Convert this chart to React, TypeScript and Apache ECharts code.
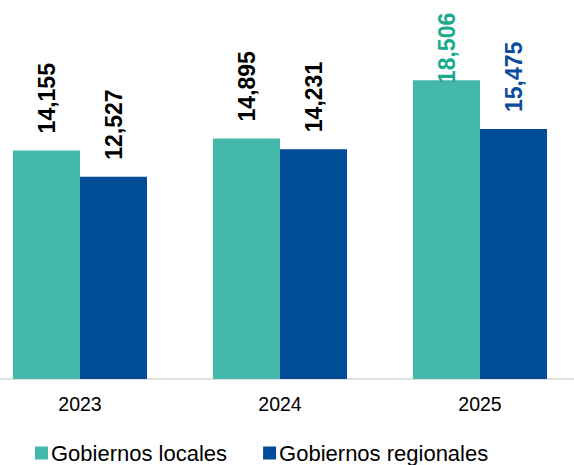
import React, { useEffect, useRef } from "react";
import * as echarts from "echarts";

const categories = ["2023", "2024", "2025"];
const locales = [14155, 14895, 18506];
const regionales = [12527, 14231, 15475];
const seriesNames = ["Gobiernos locales", "Gobiernos regionales"];

const TEAL = "#45B8AC";
const NAVY = "#004C97";
const FONT = "'Liberation Sans', Arial, sans-serif";

const fmt = (v: number) => v.toLocaleString("en-US");

export default function App() {
  const ref = useRef<HTMLDivElement>(null);
  useEffect(() => {
    document.body.style.margin = "0";
    const chart = echarts.init(ref.current!, null, { renderer: "svg" });
    const baseLabel = {
      show: true,
      position: "top",
      rotate: 90,
      align: "left",
      verticalAlign: "middle",
      distance: 17,
      fontSize: 23,
      fontWeight: "bold",
      fontFamily: FONT,
      color: "#000",
      formatter: (p: any) => fmt(p.value),
    };
    chart.setOption({
      animation: false,
      grid: { left: 0, right: 0, top: 56, bottom: 86, containLabel: false },
      legend: {
        data: seriesNames,
        left: 55,
        top: 442,
        padding: 0,
        icon: "rect",
        itemWidth: 13,
        itemHeight: 13,
        itemGap: 36,
        textStyle: { fontSize: 22, fontFamily: FONT, color: "#000", padding: [0, 0, 0, -2] },
      },
      xAxis: {
        type: "category",
        data: categories,
        axisLine: { lineStyle: { color: "#D9D9D9", width: 1.5 } },
        axisTick: { show: false },
        axisLabel: { fontSize: 19.5, fontFamily: FONT, color: "#000", margin: 15 },
      },
      yAxis: { type: "value", min: 0, max: 20000, show: false, splitLine: { show: false } },
      series: [
        {
          name: seriesNames[0],
          type: "bar",
          barGap: "0%",
          barCategoryGap: "33%",
          itemStyle: { color: TEAL },
          label: baseLabel,
          data: locales.map((v, i) =>
            i === 2
              ? { value: v, label: { color: "#1AAA8C", distance: -3 } }
              : { value: v }
          ),
        },
        {
          name: seriesNames[1],
          type: "bar",
          barGap: "0%",
          barCategoryGap: "33%",
          itemStyle: { color: NAVY },
          label: baseLabel,
          data: regionales.map((v, i) =>
            i === 2 ? { value: v, label: { color: "#0B4C9C" } } : { value: v }
          ),
        },
      ],
    });
    return () => chart.dispose();
  }, []);
  return (
    <div style={{ width: 574, height: 465, overflow: "hidden", position: "relative" }}>
      <div ref={ref} style={{ position: "absolute", left: -20, top: 0, width: 600, height: 465 }} />
    </div>
  );
}
